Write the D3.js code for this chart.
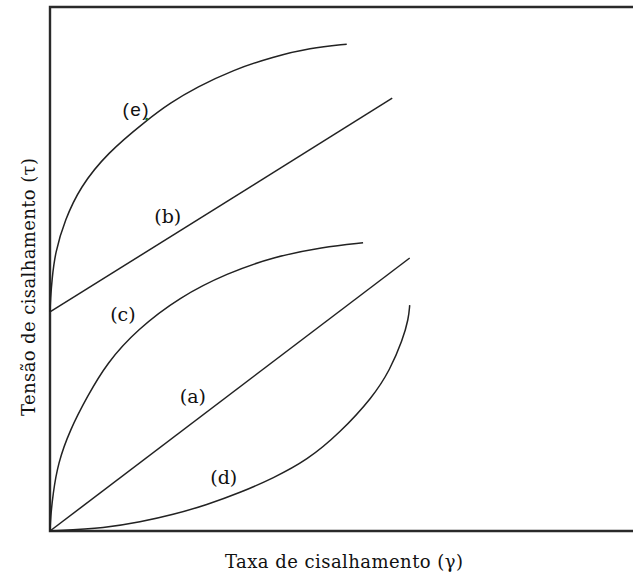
<!DOCTYPE html>
<html>
<head>
<meta charset="utf-8">
<script src="https://cdn.jsdelivr.net/npm/d3@7"></script>
<style>
  html, body { margin: 0; padding: 0; background: #fff; }
  svg { display: block; }
</style>
</head>
<body>
<div class="js-chart"></div>
<script>
// shear stress vs shear rate (both axes 0..100, no units)
const curveA = [[0, 0], [61.7, 52.1]];
const curveB = [[0, 41.8], [58.7, 82.6]];
const curveC = [
  [0, 0], [0.1, 2.5], [0.5, 7.0], [1.37, 13.0], [3.43, 19.3], [6.35, 25.6], [9.78, 32.1],
  [14.9, 38.4], [22.3, 44.7], [30.4, 49.2], [38.3, 52.3], [46.8, 54.2], [53.7, 55.0]
];
const curveD = [
  [0, 0], [9.8, 0.6], [15.4, 1.7], [21.1, 3.1], [26.9, 5.0], [32.6, 7.3],
  [38.3, 10.1], [44.1, 13.5], [49.7, 18.7], [55.4, 25.6], [58.3, 30.7],
  [60.5, 36.5], [61.5, 40.5], [61.7, 43.1]
];
const curveE = [
  [0, 41.8], [0.1, 44.5], [0.34, 47.9], [0.86, 53.1], [2.57, 59.4], [5.15, 65.6], [9.78, 72.1],
  [16.6, 78.4], [20.6, 81.7], [25.2, 84.7], [31.4, 88.0], [38.3, 90.5],
  [44.6, 92.2], [50.9, 92.9]
];
const curves = [curveA, curveB, curveC, curveD, curveE];

const labelNames = ["(e)", "(b)", "(c)", "(a)", "(d)"];
const labelAt = [[14.8, 80.2], [20.2, 59.9], [12.5, 41.2], [24.5, 25.6], [29.8, 10.1]];
const greenMark = [16.6, 78.6];

const xTitle = "Taxa de cisalhamento (γ)";
const yTitle = "Tensão de cisalhamento (τ)";

const width = 633
    , height = 576
    , margin = {top: 7, right: 0, bottom: 45, left: 50}
    , serif = "'DejaVu Serif', serif"
    , sans = "'Liberation Sans', Arial, sans-serif"
    ;

const x = d3.scaleLinear()
  .domain([0, 100])
  .range([margin.left, width - margin.right]);

const y = d3.scaleLinear()
  .domain([0, 100])
  .range([height - margin.bottom, margin.top]);

const svg = d3.select(".js-chart")
  .append("svg")
  .attr("width", width)
  .attr("height", height);

// frame: top, left and bottom only
svg.append("path")
  .attr("d", `M${x(100)},${y(100)}H${x(0)}V${y(0)}H${x(100)}`)
  .attr("fill", "none")
  .attr("stroke", "#2a2a2a")
  .attr("stroke-width", 2.4);

// b-spline keeps the hand-read points from kinking
const line = d3.line()
  .x(d => x(d[0]))
  .y(d => y(d[1]))
  .curve(d3.curveBasis);

svg.append("g")
    .attr("fill", "none")
    .attr("stroke", "#222")
    .attr("stroke-width", 1.5)
  .selectAll("path")
  .data(curves)
  .join("path")
    .attr("d", line);

svg.append("circle")
  .attr("cx", x(greenMark[0]))
  .attr("cy", y(greenMark[1]))
  .attr("r", 1.3)
  .attr("fill", "#1e6e1e");

svg.append("g")
  .selectAll("text")
  .data(labelNames)
  .join("text")
    .attr("x", (d, i) => x(labelAt[i][0]))
    .attr("y", (d, i) => y(labelAt[i][1]))
    .attr("dy", "0.3em")
    .attr("text-anchor", "middle")
    .attr("font-family", d => d == "(e)" ? sans : serif)
    .attr("font-size", d => d == "(e)" ? 19 : 19)
    .attr("letter-spacing", d => d == "(e)" ? 1.5 : 0)
    .attr("fill", "#111")
    .text(d => d);

svg.append("text")
  .attr("x", 344)
  .attr("y", 568)
  .attr("text-anchor", "middle")
  .attr("textLength", 238)
  .attr("lengthAdjust", "spacing")
  .attr("font-family", serif)
  .attr("font-size", 18)
  .attr("fill", "#111")
  .text(xTitle);

svg.append("text")
  .attr("transform", "translate(35,287) rotate(-90)")
  .attr("text-anchor", "middle")
  .attr("textLength", 258)
  .attr("lengthAdjust", "spacing")
  .attr("font-family", serif)
  .attr("font-size", 18)
  .attr("fill", "#111")
  .text(yTitle);
</script>
</body>
</html>
